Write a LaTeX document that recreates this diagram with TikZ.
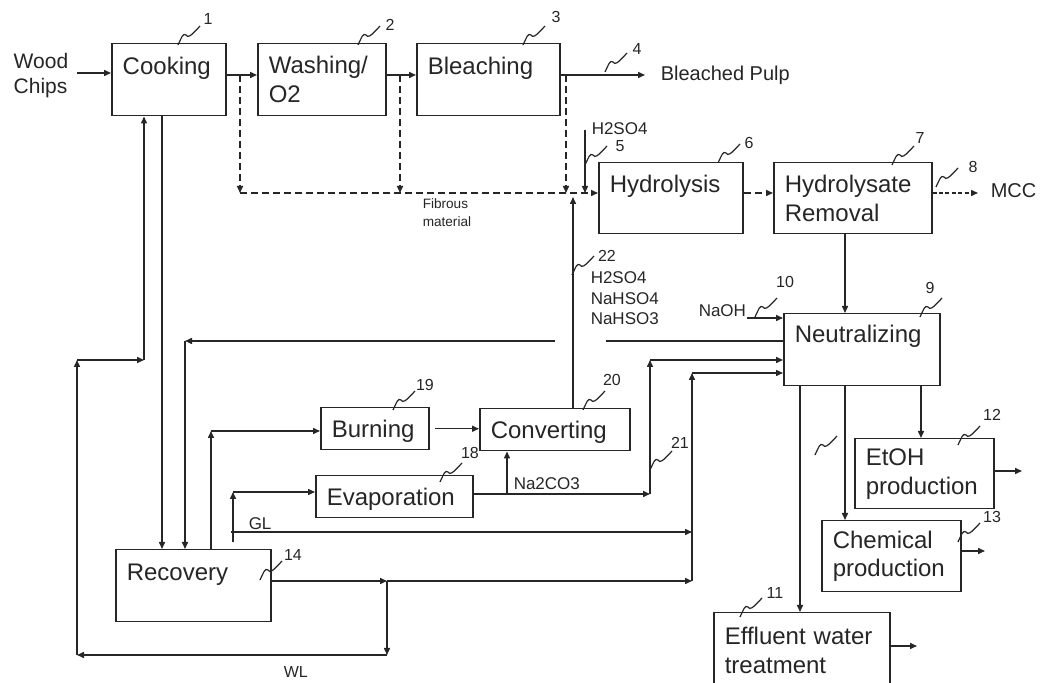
\documentclass[tikz,border=0pt]{standalone}
\usepackage{fontspec}
\setmainfont{Liberation Sans}
\usetikzlibrary{arrows.meta,calc}

\begin{document}
\begin{tikzpicture}[x=0.5pt,y=-0.5pt,>={Triangle[length=3.5pt,width=3pt]},
  line width=0.75pt,color=black!85,
  unit/.style={draw,anchor=north west,align=left,inner xsep=5.5pt,inner ysep=0pt,font=\fontsize{12}{14.4}\selectfont},
  tag/.style={anchor=north west,inner sep=0pt,align=left},
  num/.style={inner sep=0pt,font=\fontsize{8}{9}\selectfont},
  fibre/.style={dash pattern=on 3.5pt off 2pt},
  wig/.pic={\draw[line width=0.6pt] (0,0) .. controls (3,-6) and (5,-13) .. (8,-10)
    .. controls (10,-7) and (12,-8) .. (22,-19);}]
\useasboundingbox (0,0) rectangle (1041,683);
\fill[white] (0,0) rectangle (1041,683);

% process units
\node[unit,text width=46pt,text height=15.5pt,text depth=20.5pt] (cook) at (111,43) {Cooking};
\node[unit,text width=53pt,minimum height=36pt] (wash) at (257,43) {Washing/\\O2};
\node[unit,text width=60.5pt,text height=15.5pt,text depth=20.5pt] (bleach) at (416,43) {Bleaching};
\node[unit,text width=61pt,text height=15pt,text depth=20.5pt] (hyd) at (598,162) {Hydrolysis};
\node[unit,text width=68pt,minimum height=35.5pt] (hr) at (773,162) {Hydrolysate\\Removal};
\node[unit,text width=67pt,text height=14.5pt,text depth=21.5pt] (neu) at (783,313) {Neutralizing};
\node[unit,text width=43pt,text height=15pt,text depth=6pt] (burn) at (320,407) {Burning};
\node[unit,text width=64pt,text height=15pt,text depth=6pt] (conv) at (479,408) {Converting};
\node[unit,text width=67.5pt,text height=15pt,text depth=6pt] (evap) at (315,475) {Evaporation};
\node[unit,text width=66.5pt,text height=15.5pt,text depth=20.5pt] (rec) at (115,549) {Recovery};
\node[unit,text width=58.5pt,minimum height=35pt] (etoh) at (854,438) {EtOH\\production};
\node[unit,text width=58.5pt,minimum height=35.5pt] (chem) at (821,520) {Chemical\\production};
\node[unit,text width=77pt,minimum height=38pt] (eff) at (713,612) {Effluent water\\treatment};

% stream labels
\node[tag,font=\fontsize{10.5}{12.5}\selectfont] (wood) at (13,53) {Wood\\Chips};
\node[tag,font=\fontsize{10}{12}\selectfont] (pulp) at (660,65) {Bleached Pulp};
\node[tag,font=\fontsize{10}{12}\selectfont] (mcc) at (990,183) {MCC};
\node[tag,font=\fontsize{8.5}{10}\selectfont] (acid) at (591,122) {H2SO4};
\node[tag,font=\fontsize{8.5}{10.2}\selectfont] (salts) at (590,271) {H2SO4\\NaHSO4\\NaHSO3};
\node[tag,font=\fontsize{8.5}{10}\selectfont] (naoh) at (698,304) {NaOH};
\node[tag,font=\fontsize{8.5}{10}\selectfont] (soda) at (513,477) {Na2CO3};
\node[tag,font=\fontsize{8.5}{10}\selectfont] (gl) at (248,517) {GL};
\node[tag,font=\fontsize{8}{10}\selectfont] (wl) at (283,666) {WL};
\node[tag,font=\fontsize{6.8}{9}\selectfont] (fib) at (422,198) {Fibrous\\material};

% reference numbers
\foreach \x/\y/\nx/\ny/\n in {178/45/208/19/1,358/45/390/25/2,523/45/556/17/3,605/72/637/49/4,
  585/165/620/146/5,718/163/749/143/6,892/165/920/138/7,936/187/973/167/8,920/317/930/288/9,
  755/317/785/282/10,740/617/775/593/11,958/445/992/415/12,958/542/992/517/13,260/580/293/555/14,
  440/482/470/453/18,393/410/425/385/19,583/410/612/380/20,650/470/680/443/21,572/275/607/256/22}
  {\pic at (\x,\y) {wig};
   \node[num] (n\n) at (\nx,\ny) {\n};}
\pic at (815,455) {wig};

% bend points
\coordinate (row) at (0,75);
\coordinate (fibline) at (0,193);
\coordinate (f1) at (240,75);
\coordinate (f2) at (400,75);
\coordinate (f3) at (566,75);
\coordinate (acidin) at (585,130);
\coordinate (up) at (573,197);
\coordinate (hn) at (845,0);
\coordinate (alk) at (747,318);
\coordinate (ret) at (185,341);
\coordinate (gapL) at (555,341);
\coordinate (gapR) at (606,341);
\coordinate (down) at (162,0);
\coordinate (wl1) at (387,581);
\coordinate (wl2) at (387,655);
\coordinate (wl3) at (77,655);
\coordinate (wl4) at (77,360);
\coordinate (wl5) at (144,360);
\coordinate (bu) at (211,431);
\coordinate (gl1) at (233,542);
\coordinate (gl2) at (233,492);
\coordinate (gl3) at (231,532);
\coordinate (m1a) at (650,494);
\coordinate (m1b) at (650,360);
\coordinate (m2a) at (692,581);
\coordinate (m2b) at (692,373);
\coordinate (na) at (507,494);
\coordinate (o1) at (800,0);
\coordinate (o2) at (845,0);
\coordinate (o3) at (921,0);
\coordinate (x1) at (1022,471);
\coordinate (x2) at (985,551);
\coordinate (x3) at (917,646);
\coordinate (chips) at (77,73);

% pulp line
\draw[->] (chips) -- (cook.west |- chips);
\draw[->] (cook.east |- row) -- (wash.west |- row);
\draw[->] (wash.east |- row) -- (bleach.west |- row);
\draw[->,shorten >=7.5pt] (bleach.east |- row) -- (pulp.west |- row);
\foreach \f in {f1,f2,f3}
  \draw[->,fibre] (\f) -- (\f |- fibline);
\draw[->,fibre] (f1 |- fibline) -- (hyd.west |- fibline);
\draw[->] (acidin) -- (acidin |- fibline);
\draw[->] (conv.north -| up) -- (up);
\draw[->,fibre] (hyd.east |- fibline) -- (hr.west |- fibline);
\draw[->,dash pattern=on 2pt off 1.2pt,shorten >=6pt] (hr.east |- fibline) -- (mcc.west |- fibline);
\draw[->] (hr.south -| hn) -- (neu.north -| hn);
\draw[->] (alk) -- (neu.west |- alk);

% liquor cycle
\draw (neu.west |- ret) -- (gapR);
\draw[->] (gapL) -- (ret);
\draw[->] (ret) -- (rec.north -| ret);
\draw[->] (cook.south -| down) -- (rec.north -| down);
\draw[->] (rec.east |- wl1) -- (wl1);
\draw[->] (wl1) -- (m2a);
\draw[->] (wl1) -- (wl2);
\draw[->] (wl2) -- (wl3);
\draw[->] (wl3) -- (wl4);
\draw[->] (wl4) -- (wl5);
\draw[->] (wl5) -- (cook.south -| wl5);
\draw[->] (rec.north -| bu) -- (bu);
\draw[->] (bu) -- (burn.west |- bu);
\draw[->,shorten <=2.5pt] (burn.east) -- (conv.west |- burn.east);
\draw[->] (gl1) -- (gl2);
\draw[->] (gl2) -- (evap.west |- gl2);
\draw[->] (gl3) -- (m2a |- gl3);
\draw[->] (evap.east |- m1a) -- (m1a);
\draw[->] (na) -- (conv.south -| na);
\draw[->] (m1a) -- (m1b);
\draw[->] (m1b) -- (neu.west |- m1b);
\draw[->] (m2a) -- (m2b);
\draw[->] (m2b) -- (neu.west |- m2b);

% products
\draw[->] (neu.south -| o1) -- (eff.north -| o1);
\draw[->] (neu.south -| o2) -- (chem.north -| o2);
\draw[->] (neu.south -| o3) -- (etoh.north -| o3);
\draw[->] (etoh.east |- x1) -- (x1);
\draw[->] (chem.east |- x2) -- (x2);
\draw[->] (eff.east |- x3) -- (x3);
\end{tikzpicture}
\end{document}
